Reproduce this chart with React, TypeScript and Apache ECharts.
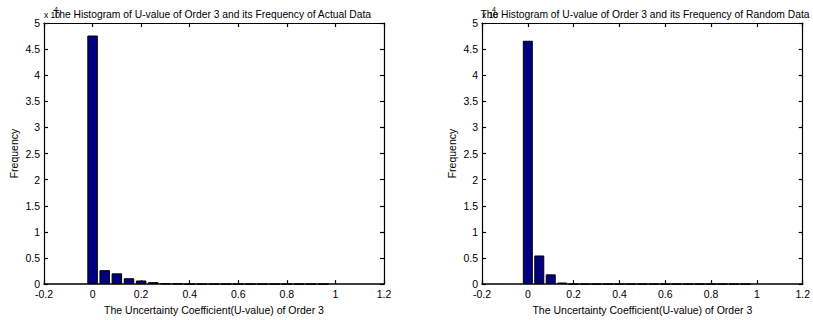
import React, { useEffect, useRef } from "react";
import * as echarts from "echarts";

// Bin centres of the histogram (U-value)
const binCenters = [0, 0.05, 0.1, 0.15, 0.2, 0.25, 0.3, 0.35, 0.4, 0.45, 0.5, 0.55, 0.6, 0.65, 0.7, 0.75, 0.8, 0.85, 0.9, 0.95];
// Frequencies (counts)
const actualCounts = [47600, 2670, 2060, 1120, 690, 370, 120, 90, 0, 0, 0, 0, 0, 0, 0, 0, 0, 0, 0, 0];
const randomCounts = [46600, 5480, 1870, 300, 0, 0, 0, 0, 0, 0, 0, 0, 0, 0, 0, 0, 0, 0, 0, 0];

const xTicks = { min: -0.2, max: 1.2, interval: 0.2 };
const yTicks = { min: 0, max: 50000, interval: 5000 };

const titles = [
  "The Histogram of U-value of Order 3 and its Frequency of Actual Data",
  "The Histogram of U-value of Order 3 and its Frequency of Random Data",
];
const xLabel = "The Uncertainty Coefficient(U-value) of Order 3";
const yLabel = "Frequency";

const FONT = "'Liberation Sans', Arial, sans-serif";

export default function App() {
  const ref = useRef<HTMLDivElement>(null);
  useEffect(() => {
    if (!ref.current) return;
    const chart = echarts.init(ref.current, undefined, { renderer: "svg" });
    const grids = [
      { left: 44, top: 23, width: 340, height: 267 },
      { left: 482, top: 23, width: 330, height: 267 },
    ];
    const titleCenters = [212, 645];
    const lineStyle = { color: "#000", width: 1.2 };
    const bottomLine = { color: "#000", width: 1.6 };
    const fmtX = (v: number) => String(parseFloat(v.toFixed(2)));
    const fmtY = (v: number) => String(parseFloat((v / 10000).toFixed(2)));
    const xAxes: any[] = [];
    const yAxes: any[] = [];
    grids.forEach((_, i) => {
      xAxes.push({
        type: "value", gridIndex: i, position: "bottom", ...xTicks,
        axisLine: { show: true, onZero: false, lineStyle: bottomLine },
        axisTick: { show: true, inside: true, length: 4, lineStyle },
        axisLabel: { show: true, color: "#000", fontSize: 10.5, fontFamily: FONT, margin: 4, formatter: fmtX },
        splitLine: { show: false },
        name: xLabel, nameLocation: "middle", nameGap: 17,
        nameTextStyle: { color: "#000", fontSize: 10.5, fontFamily: FONT },
      });
      xAxes.push({
        type: "value", gridIndex: i, position: "top", ...xTicks,
        axisLine: { show: true, onZero: false, lineStyle },
        axisTick: { show: true, inside: true, length: 4, lineStyle },
        axisLabel: { show: false },
        splitLine: { show: false },
      });
      yAxes.push({
        type: "value", gridIndex: i, position: "left", ...yTicks,
        axisLine: { show: true, onZero: false, lineStyle },
        axisTick: { show: true, inside: true, length: 4, lineStyle },
        axisLabel: { show: true, color: "#000", fontSize: 10.5, fontFamily: FONT, margin: 4, formatter: fmtY },
        splitLine: { show: false },
        name: yLabel, nameLocation: "middle", nameGap: 25, nameRotate: 90,
        nameTextStyle: { color: "#000", fontSize: 10.5, fontFamily: FONT },
      });
      yAxes.push({
        type: "value", gridIndex: i, position: "right", ...yTicks,
        axisLine: { show: true, onZero: false, lineStyle },
        axisTick: { show: true, inside: true, length: 4, lineStyle },
        axisLabel: { show: false },
        splitLine: { show: false },
      });
    });
    const mkSeries = (counts: number[], i: number, bw: number) => ({
      type: "bar",
      xAxisIndex: i * 2,
      yAxisIndex: i * 2,
      barWidth: bw,
      data: binCenters.map((c, k) => [c, counts[k]]),
      itemStyle: { color: "#000080", borderColor: "#000", borderWidth: 1 },
    });
    const graphics: any[] = [];
    grids.forEach((g, i) => {
      graphics.push({
        type: "text", x: titleCenters[i], y: 14,
        style: { text: titles[i], fill: "#000", font: `10.3px ${FONT}`, textAlign: "center", textVerticalAlign: "middle" },
      });
      graphics.push({
        type: "text", x: g.left, y: 15,
        style: { text: "x 10", fill: "#000", font: `8.5px ${FONT}`, textAlign: "left", textVerticalAlign: "middle" },
      });
      graphics.push({
        type: "text", x: g.left + 10, y: 9,
        style: { text: "4", fill: "#000", font: `7px ${FONT}`, textAlign: "left", textVerticalAlign: "middle" },
      });
    });
    chart.setOption({
      animation: false,
      backgroundColor: "#fff",
      grid: grids.map((g) => ({ ...g, containLabel: false })),
      xAxis: xAxes,
      yAxis: yAxes,
      series: [mkSeries(actualCounts, 0, 10.5), mkSeries(randomCounts, 1, 10)],
      graphic: graphics,
    });
    return () => chart.dispose();
  }, []);
  return (
    <div
      ref={ref}
      style={{ position: "fixed", left: 0, top: 0, width: 813, height: 320, background: "#fff" }}
    />
  );
}
